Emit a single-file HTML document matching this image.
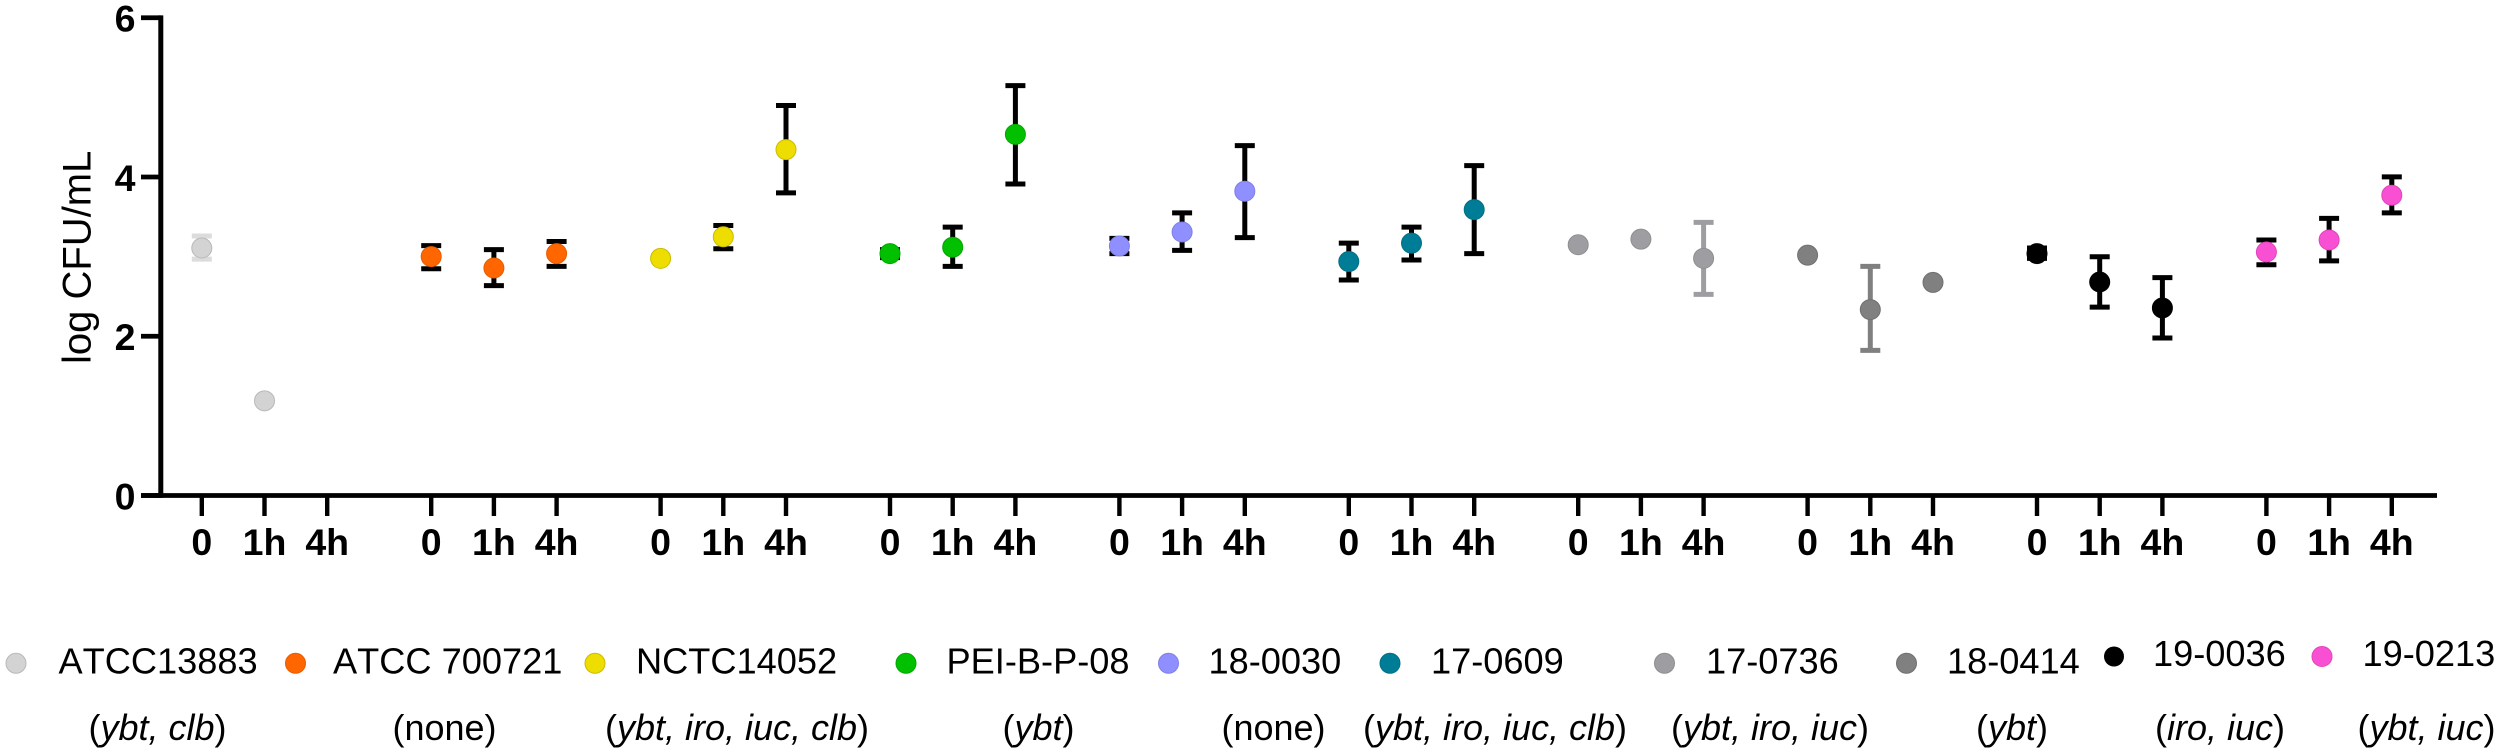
<!DOCTYPE html>
<html lang="en">
<head>
<meta charset="utf-8">
<title>log CFU/mL by strain and time</title>
<style>
html,body{margin:0;padding:0;background:#fff;}
svg{display:block;font-family:"Liberation Sans",Arial,sans-serif;font-kerning:none;}
.leg{font-size:36.2px;fill:#000;}
.sub{font-size:36px;fill:#000;text-anchor:middle;}
.sub tspan{font-style:italic;}
.tick{font-size:37.5px;font-weight:bold;fill:#000;}
</style>
</head>
<body>
<svg id="chart" width="2500" height="754" viewBox="0 0 2500 754" xmlns="http://www.w3.org/2000/svg">
  <rect width="2500" height="754" fill="#fff"/>
  <g id="plot"></g>
  <text transform="translate(90.7,364) rotate(-90)" font-size="40" fill="#000">log CFU/mL</text>

  <g>
    <g>
      <circle cx="16" cy="663.3" r="10" fill="#d3d3d3" stroke="#b8b8b8" stroke-width="1"/>
      <text class="leg" x="58.5" y="673.3">ATCC13883</text>
      <text class="sub" x="157.5" y="740">(<tspan>ybt, clb</tspan>)</text>
    </g>
    <g>
      <circle cx="295.5" cy="663.3" r="10" fill="#ff6600" stroke="#e65c00" stroke-width="1"/>
      <text class="leg" x="333" y="673.3">ATCC 700721</text>
      <text class="sub" x="444.5" y="740">(none)</text>
    </g>
    <g>
      <circle cx="595" cy="663.3" r="10" fill="#eedd00" stroke="#ccbb00" stroke-width="1"/>
      <text class="leg" x="636" y="673.3">NCTC14052</text>
      <text class="sub" x="737" y="740">(<tspan>ybt, iro, iuc, clb</tspan>)</text>
    </g>
    <g>
      <circle cx="906" cy="663.3" r="10" fill="#00c000" stroke="#00a800" stroke-width="1"/>
      <text class="leg" x="946.5" y="673.3">PEI-B-P-08</text>
      <text class="sub" x="1038.5" y="740">(<tspan>ybt</tspan>)</text>
    </g>
    <g>
      <circle cx="1168.5" cy="663.3" r="10" fill="#8f8fff" stroke="#7f7fe6" stroke-width="1"/>
      <text class="leg" x="1208.5" y="673.3">18-0030</text>
      <text class="sub" x="1273.5" y="740">(none)</text>
    </g>
    <g>
      <circle cx="1390" cy="663.3" r="10" fill="#007d96" stroke="#006f86" stroke-width="1"/>
      <text class="leg" x="1431" y="673.3">17-0609</text>
      <text class="sub" x="1495" y="740">(<tspan>ybt, iro, iuc, clb</tspan>)</text>
    </g>
    <g>
      <circle cx="1664.5" cy="663.3" r="10" fill="#9e9ea2" stroke="#8e8e92" stroke-width="1"/>
      <text class="leg" x="1706" y="673.3">17-0736</text>
      <text class="sub" x="1770" y="740">(<tspan>ybt, iro, iuc</tspan>)</text>
    </g>
    <g>
      <circle cx="1906.5" cy="663.3" r="10" fill="#808080" stroke="#707070" stroke-width="1"/>
      <text class="leg" x="1947" y="673.3">18-0414</text>
      <text class="sub" x="2012" y="740">(<tspan>ybt</tspan>)</text>
    </g>
    <g>
      <circle cx="2114" cy="656.5" r="10" fill="#000"/>
      <text class="leg" x="2153" y="666">19-0036</text>
      <text class="sub" x="2220" y="740">(<tspan>iro, iuc</tspan>)</text>
    </g>
    <g>
      <circle cx="2322" cy="656.5" r="10" fill="#f94fd3" stroke="#e045bd" stroke-width="1"/>
      <text class="leg" x="2362.5" y="666">19-0213</text>
      <text class="sub" x="2426.5" y="740">(<tspan>ybt, iuc</tspan>)</text>
    </g>
  </g>
</svg>
<script>
const strains = ["ATCC13883","ATCC 700721","NCTC14052","PEI-B-P-08","18-0030","17-0609","17-0736","18-0414","19-0036","19-0213"];
const timepoints = ["0","1h","4h"];
const yTicks = [0,2,4,6];

const meanAtcc13883 = [3.108,1.189,null];
const upperAtcc13883 = [3.259,null,null];
const lowerAtcc13883 = [2.968,null,null];

const meanAtcc700721 = [3.0,2.857,3.038];
const upperAtcc700721 = [3.138,3.088,3.189];
const lowerAtcc700721 = [2.847,2.636,2.877];

const meanNctc14052 = [2.978,3.249,4.344];
const upperNctc14052 = [null,3.39,4.897];
const lowerNctc14052 = [null,3.098,3.801];

const meanPei = [3.038,3.118,4.535];
const upperPei = [3.088,3.37,5.148];
const lowerPei = [2.988,2.877,3.912];

const mean180030 = [3.133,3.309,3.821];
const upper180030 = [3.229,3.55,4.394];
const lower180030 = [3.038,3.078,3.239];

const mean170609 = [2.938,3.169,3.59];
const upper170609 = [3.169,3.37,4.143];
const lower170609 = [2.706,2.958,3.038];

const mean170736 = [3.149,3.219,2.978];
const upper170736 = [null,null,3.43];
const lower170736 = [null,null,2.526];

const mean180414 = [3.018,2.335,2.676];
const upper180414 = [null,2.877,null];
const lower180414 = [null,1.822,null];

const mean190036 = [3.038,2.681,2.355];
const upper190036 = [3.108,2.998,2.736];
const lower190036 = [2.978,2.365,1.978];

const mean190213 = [3.058,3.209,3.771];
const upper190213 = [3.209,3.48,4.002];
const lower190213 = [2.897,2.947,3.55];

const means = [meanAtcc13883,meanAtcc700721,meanNctc14052,meanPei,mean180030,mean170609,mean170736,mean180414,mean190036,mean190213];
const uppers = [upperAtcc13883,upperAtcc700721,upperNctc14052,upperPei,upper180030,upper170609,upper170736,upper180414,upper190036,upper190213];
const lowers = [lowerAtcc13883,lowerAtcc700721,lowerNctc14052,lowerPei,lower180030,lower170609,lower170736,lower180414,lower190036,lower190213];

const fillColors = ["#d3d3d3","#ff6600","#eedd00","#00c000","#8f8fff","#007d96","#9e9ea2","#808080","#000000","#f94fd3"];
const edgeColors = ["#b8b8b8","#e65c00","#ccbb00","#00a800","#7f7fe6","#006f86","#8e8e92","#707070","#000000","#e045bd"];
const barColors = ["#dcdcdc","#000000","#000000","#000000","#000000","#000000","#9e9ea2","#808080","#000000","#000000"];

const NS = "http://www.w3.org/2000/svg";
const plot = document.getElementById("plot");

function yScale(v){ return 495.5 - 79.63 * v; }
function xScale(groupIndex, timeIndex){ return 201.8 + 229.4 * groupIndex + 62.7 * timeIndex; }

function shape(tag, attrs, parent){
  const node = document.createElementNS(NS, tag);
  Object.keys(attrs).forEach(function(k){ node.setAttribute(k, attrs[k]); });
  (parent || plot).appendChild(node);
  return node;
}
function slug(s){ return s.toLowerCase().replace(/[^a-z0-9]+/g, "-"); }

const yAxisLine = shape("line",{x1:160.8,x2:160.8,y1:yScale(6)-2.4,y2:yScale(0)+2.3,stroke:"#000","stroke-width":5});



const xAxisLine = shape("line",{x1:141,x2:2437,y1:yScale(0),y2:yScale(0),stroke:"#000","stroke-width":4.7});



yTicks.forEach(function(v){
  const y = yScale(v);
  const tick = shape("line",{x1:141,x2:161,y1:y,y2:y,stroke:"#000","stroke-width":4.7});
  
  
  const label = shape("text",{"class":"tick","text-anchor":"end",x:135.5,y:y+14});
  label.textContent = String(v);
  
  
});

strains.forEach(function(strain, g){
  timepoints.forEach(function(tp, t){
    const x = xScale(g, t);
    const tick = shape("line",{x1:x,x2:x,y1:yScale(0),y2:516,stroke:"#000","stroke-width":4.4});
    
    
    const label = shape("text",{"class":"tick","text-anchor":"middle",x:x,y:555});
    label.textContent = tp;
    
    
  });
});

strains.forEach(function(strain, g){
  const group = shape("g",{});
  
  
  timepoints.forEach(function(tp, t){
    const m = means[g][t];
    if (m === null) { return; }
    const x = xScale(g, t);
    const up = uppers[g][t];
    const lo = lowers[g][t];
    if (up !== null && lo !== null) {
      const stem = shape("line",{x1:x,x2:x,y1:yScale(up),y2:yScale(lo),stroke:barColors[g],"stroke-width":5},group);
      
      
      const capTop = shape("line",{x1:x-10,x2:x+10,y1:yScale(up),y2:yScale(up),stroke:barColors[g],"stroke-width":5},group);
      
      
      const capBottom = shape("line",{x1:x-10,x2:x+10,y1:yScale(lo),y2:yScale(lo),stroke:barColors[g],"stroke-width":5},group);
      
      
    }
    const point = shape("circle",{cx:x,cy:yScale(m),r:10,fill:fillColors[g],stroke:edgeColors[g],"stroke-width":1},group);
    
    
  });
});
</script>
</body>
</html>
